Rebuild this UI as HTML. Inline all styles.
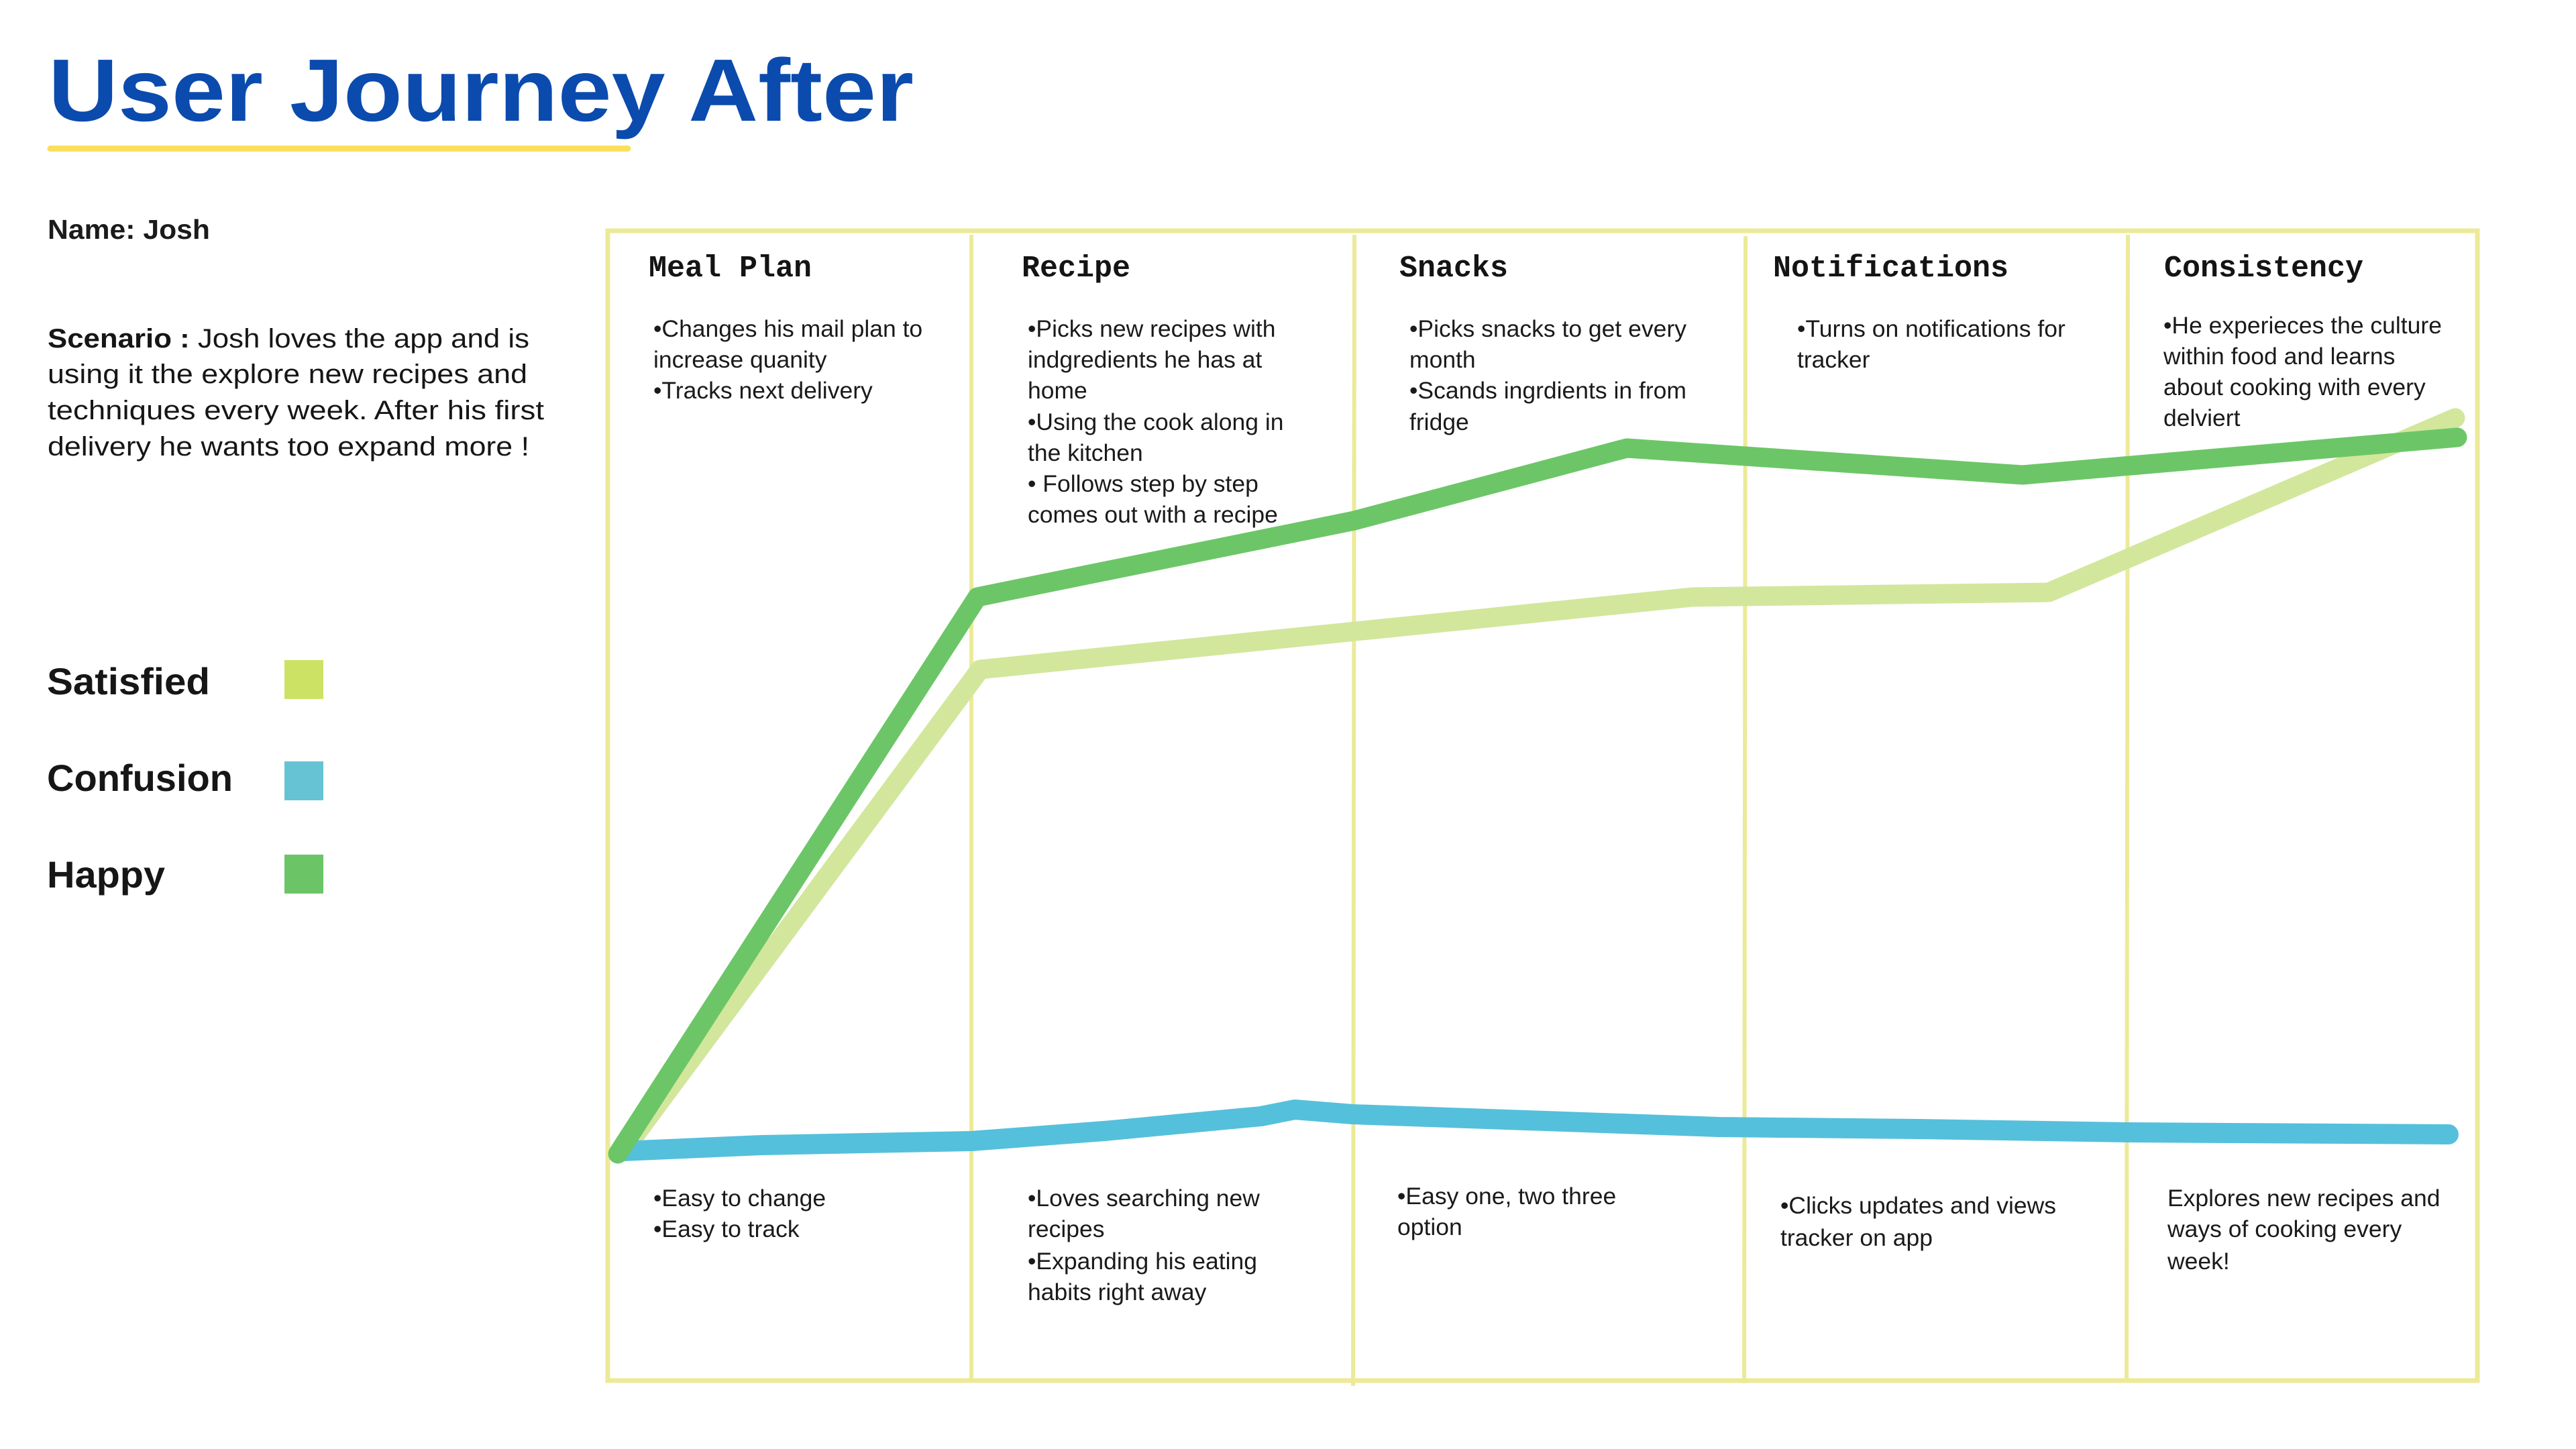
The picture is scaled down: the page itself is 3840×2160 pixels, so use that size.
<!DOCTYPE html>
<html>
<head>
<meta charset="utf-8">
<style>
  html, body { margin:0; padding:0; background:#ffffff; }
  body { width:3840px; height:2160px; overflow:hidden; }
  svg { display:block; }
  .body { font-family:"Liberation Sans", sans-serif; font-size:35.5px; fill:#1a1a1a; }
  .hdr { font-family:"Liberation Mono", monospace; font-size:45px; font-weight:bold; fill:#141414; }
  .leg { font-family:"Liberation Sans", sans-serif; font-size:56px; font-weight:bold; fill:#161616; }
  .scn { font-family:"Liberation Sans", sans-serif; font-size:40px; fill:#161616; }
</style>
</head>
<body>
<svg width="3840" height="2160" viewBox="0 0 3840 2160" xmlns="http://www.w3.org/2000/svg">
  <rect x="0" y="0" width="3840" height="2160" fill="#ffffff"/>

  <!-- Title -->
  <text x="72" y="180" font-family="Liberation Sans, sans-serif" font-size="132" font-weight="bold" fill="#0B4BAE" textLength="1290" lengthAdjust="spacingAndGlyphs">User Journey After</text>
  <line x1="75" y1="221.5" x2="936" y2="221.5" stroke="#FADF5C" stroke-width="9" stroke-linecap="round"/>

  <!-- Name -->
  <text x="71" y="356" font-family="Liberation Sans, sans-serif" font-size="41" font-weight="bold" fill="#1b1b1b" textLength="242" lengthAdjust="spacingAndGlyphs">Name: Josh</text>

  <!-- Scenario -->
  <text class="scn" x="71" y="518" textLength="718" lengthAdjust="spacingAndGlyphs"><tspan font-weight="bold">Scenario :</tspan> Josh loves the app and is</text>
  <text class="scn" x="71" y="571" textLength="715" lengthAdjust="spacingAndGlyphs">using it the explore new recipes and</text>
  <text class="scn" x="71" y="625" textLength="740" lengthAdjust="spacingAndGlyphs">techniques every week. After his first</text>
  <text class="scn" x="71" y="679" textLength="718" lengthAdjust="spacingAndGlyphs">delivery he wants too expand more !</text>

  <!-- Legend -->
  <text class="leg" x="70" y="1035" textLength="243" lengthAdjust="spacingAndGlyphs">Satisfied</text>
  <rect x="424" y="984" width="58" height="58" fill="#CBE265"/>
  <text class="leg" x="70" y="1179" textLength="277" lengthAdjust="spacingAndGlyphs">Confusion</text>
  <rect x="424" y="1135" width="58" height="58" fill="#66C3D4"/>
  <text class="leg" x="70" y="1323" textLength="176" lengthAdjust="spacingAndGlyphs">Happy</text>
  <rect x="424" y="1274" width="58" height="58" fill="#6BC566"/>

  <!-- Chart frame -->
  <rect x="906" y="344" width="2787" height="1714" fill="none" stroke="#ECEA98" stroke-width="7"/>
  <line x1="1448" y1="350" x2="1448" y2="2058" stroke="#ECEA98" stroke-width="6"/>
  <line x1="2019" y1="350" x2="2017" y2="2066" stroke="#ECEA98" stroke-width="6"/>
  <line x1="2602" y1="352" x2="2600" y2="2062" stroke="#ECEA98" stroke-width="6"/>
  <line x1="3172" y1="350" x2="3170" y2="2060" stroke="#ECEA98" stroke-width="6"/>

  <!-- Headers -->
  <text class="hdr" x="967" y="412">Meal Plan</text>
  <text class="hdr" x="1523" y="412">Recipe</text>
  <text class="hdr" x="2086" y="412">Snacks</text>
  <text class="hdr" x="2643" y="412">Notifications</text>
  <text class="hdr" x="3226" y="412">Consistency</text>

  <!-- Top texts -->
  <text class="body" x="974" y="502">•Changes his mail plan to</text>
  <text class="body" x="974" y="548">increase quanity</text>
  <text class="body" x="974" y="594">•Tracks next delivery</text>

  <text class="body" x="1532" y="502">•Picks new recipes with</text>
  <text class="body" x="1532" y="548">indgredients he has at</text>
  <text class="body" x="1532" y="594">home</text>
  <text class="body" x="1532" y="641">•Using the cook along in</text>
  <text class="body" x="1532" y="687">the kitchen</text>
  <text class="body" x="1532" y="733">• Follows step by step</text>
  <text class="body" x="1532" y="779">comes out with a recipe</text>

  <text class="body" x="2101" y="502">•Picks snacks to get every</text>
  <text class="body" x="2101" y="548">month</text>
  <text class="body" x="2101" y="594">•Scands ingrdients in from</text>
  <text class="body" x="2101" y="641">fridge</text>

  <text class="body" x="2679" y="502">•Turns on notifications for</text>
  <text class="body" x="2679" y="548">tracker</text>

  <text class="body" x="3225" y="497">•He experieces the culture</text>
  <text class="body" x="3225" y="543">within food and learns</text>
  <text class="body" x="3225" y="589">about cooking with every</text>
  <text class="body" x="3225" y="635">delviert</text>

  <!-- Bottom texts -->
  <text class="body" x="974" y="1798">•Easy to change</text>
  <text class="body" x="974" y="1844">•Easy to track</text>

  <text class="body" x="1532" y="1798">•Loves searching new</text>
  <text class="body" x="1532" y="1844">recipes</text>
  <text class="body" x="1532" y="1892">•Expanding his eating</text>
  <text class="body" x="1532" y="1938">habits right away</text>

  <text class="body" x="2083" y="1795">•Easy one, two three</text>
  <text class="body" x="2083" y="1841">option</text>

  <text class="body" x="2654" y="1809">•Clicks updates and views</text>
  <text class="body" x="2654" y="1857">tracker on app</text>

  <text class="body" x="3231" y="1798">Explores new recipes and</text>
  <text class="body" x="3231" y="1844">ways of cooking every</text>
  <text class="body" x="3231" y="1892">week!</text>

  <!-- Series lines -->
  <polyline points="932,1712 1461,998 2523,890 3054,883 3660,623" fill="none" stroke="#D2E79C" stroke-width="29" stroke-linecap="round" stroke-linejoin="round"/>
  <polyline points="928,1716 1135,1707 1448,1701 1646,1686 1880,1664 1930,1654 2016,1661 2562,1680 2860,1683 3172,1688 3650,1691" fill="none" stroke="#55C0DB" stroke-width="30" stroke-linecap="round" stroke-linejoin="round"/>
  <polyline points="921,1720 1457,890 2019,776 2425,668 3015,708 3663,652" fill="none" stroke="#6CC667" stroke-width="29" stroke-linecap="round" stroke-linejoin="round"/>
</svg>
</body>
</html>
